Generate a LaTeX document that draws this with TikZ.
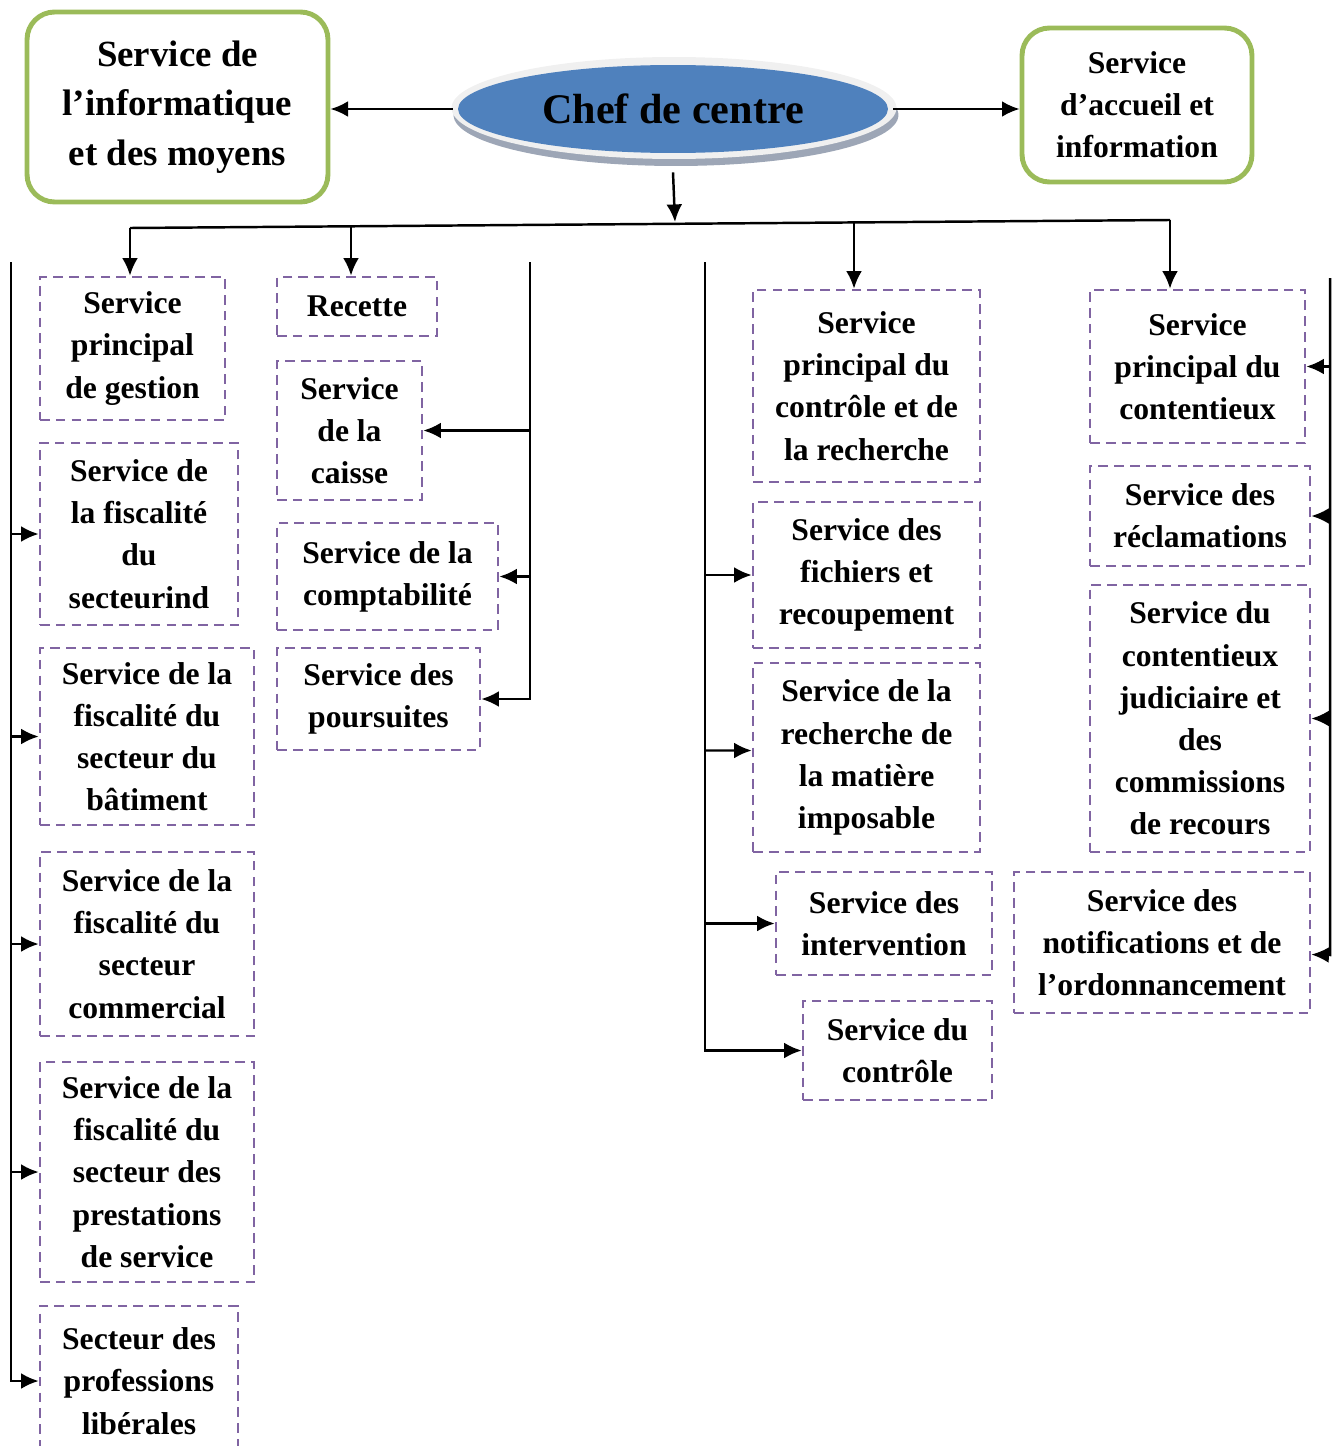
\documentclass[tikz,border=0pt]{standalone}
\usepackage{fontspec}
\setmainfont{Liberation Serif}
\usetikzlibrary{shapes.geometric,arrows.meta}
\definecolor{svcpurple}{HTML}{8064A2}
\definecolor{svcgreen}{HTML}{9BBB59}
\definecolor{chefblue}{HTML}{4F81BD}
\definecolor{chefrim}{HTML}{F0F0F0}
\definecolor{chefshade}{HTML}{9DA6B6}

\begin{document}
\begin{tikzpicture}[x=0.02cm,y=-0.02cm,
	svcbox/.style={draw=svcpurple,line width=1.5pt,dash pattern=on 5.5pt off 3.5pt,rectangle,align=center,inner sep=0pt,font=\bfseries\fontsize{18}{24}\selectfont},
	greenbox/.style={draw=svcgreen,line width=2.8pt,rounded corners=0.55cm,rectangle,align=center,inner sep=0pt},
	link/.style={line width=1.4pt},
	arr/.style={link,-{Latex[length=10pt,width=9pt]}}]
\useasboundingbox (0 ,0) rectangle (1336 ,1446);

\fill [chefshade] (676 ,115) ellipse [x radius=4.45cm, y radius=1.02cm];
\fill [chefrim] (674 ,108) ellipse [x radius=4.45cm, y radius=1.02cm];
\node [ellipse,fill=chefblue,minimum width=8.6cm,minimum height=1.76cm,inner sep=0pt,font=\bfseries\fontsize{24}{29}\selectfont] (chef) at (673 ,109) {Chef de centre};

\node [greenbox,minimum width=6.02cm,minimum height=3.8cm,font=\bfseries\fontsize{21}{28}\selectfont] (info) at (177.5 ,107) {Service de\\ l’informatique\\ et des moyens};
\node [greenbox,minimum width=4.6cm,minimum height=3.08cm,font=\bfseries\fontsize{18}{24}\selectfont] (acc) at (1137 ,105) {Service\\ d’accueil et\\ information};

\draw [arr] (chef.west) ++(-5,0) -- (info.east |- chef.west);
\draw [arr] (chef.east) ++(5,0) -- (acc.west |- chef.east);

\coordinate (b1) at (130 ,228);
\coordinate (b2) at (351 ,226.3);
\coordinate (mid) at (675 ,222);
\coordinate (b3) at (854 ,222.4);
\coordinate (b4) at (1170 ,220);
\draw [arr] (chef.south) ++(0,19) -- (mid);
\draw [link] (b1) -- (b4);

% gestion
\node [svcbox,minimum width=3.7cm,minimum height=2.86cm] (spg) at (132.5 ,348.5) {Service\\ principal\\ de gestion};
\node [svcbox,minimum width=3.96cm,minimum height=3.64cm] (sfi) at (139 ,534) {Service de\\ la fiscalité\\ du\\ secteurind};
\node [svcbox,minimum width=4.28cm,minimum height=3.54cm] (sfb) at (147 ,736.5) {Service de la\\ fiscalité du\\ secteur du\\ bâtiment};
\node [svcbox,minimum width=4.28cm,minimum height=3.68cm] (sfc) at (147 ,944) {Service de la\\ fiscalité du\\ secteur\\ commercial};
\node [svcbox,minimum width=4.28cm,minimum height=4.4cm] (sfp) at (147 ,1172) {Service de la\\ fiscalité du\\ secteur des\\ prestations\\ de service};
\node [svcbox,minimum width=3.96cm,minimum height=3.0cm] (spl) at (139 ,1381) {Secteur des\\ professions\\ libérales};

\coordinate (lt) at (11 ,262);
\draw [arr] (b1) -- (b1 |- spg.north);
\draw [arr] (lt) -- (lt |- spl.west) -- (spl.west);
\foreach \n in {sfi,sfb,sfc,sfp}
	\draw [arr] (lt |- \n.west) -- (\n.west);

% recette
\node [svcbox,minimum width=3.2cm,minimum height=1.18cm] (rec) at (357 ,306.5) {Recette};
\node [svcbox,minimum width=2.9cm,minimum height=2.78cm] (cai) at (349.5 ,430.5) {Service\\ de la\\ caisse};
\node [svcbox,minimum width=4.42cm,minimum height=2.14cm] (cpt) at (387.5 ,576.5) {Service de la\\ comptabilité};
\node [svcbox,minimum width=4.06cm,minimum height=2.04cm] (pou) at (378.5 ,699) {Service des\\ poursuites};

\coordinate (mt) at (530 ,262);
\draw [arr] (b2) -- (b2 |- rec.north);
\draw [arr] (mt) -- (mt |- pou.east) -- (pou.east);
\foreach \n in {cai,cpt}
	\draw [arr] (mt |- \n.east) -- (\n.east);

% controle
\node [svcbox,minimum width=4.54cm,minimum height=3.84cm] (spc) at (866.5 ,386) {Service\\ principal du\\ contrôle et de\\ la recherche};
\node [svcbox,minimum width=4.54cm,minimum height=2.92cm] (sfr) at (866.5 ,575) {Service des\\ fichiers et\\ recoupement};
\node [svcbox,minimum width=4.54cm,minimum height=3.78cm] (srm) at (866.5 ,757.5) {Service de la\\ recherche de\\ la matière\\ imposable};
\node [svcbox,minimum width=4.32cm,minimum height=2.06cm] (sin) at (884 ,923.5) {Service des\\ intervention};
\node [svcbox,minimum width=3.78cm,minimum height=1.98cm] (sco) at (897.5 ,1050.5) {Service du\\ contrôle};

\coordinate (ct) at (705 ,262);
\draw [arr] (b3) -- (b3 |- spc.north);
\draw [arr] (ct) -- (ct |- sco.west) -- (sco.west);
\draw [arr] (ct |- sfr.west) -- (sfr.west);
\draw [arr] (ct |- srm.west) ++(0,-7) -- ([yshift=0.14cm]srm.west);
\draw [arr] (ct |- sin.west) -- (sin.west);

% contentieux
\node [svcbox,minimum width=4.3cm,minimum height=3.06cm] (spx) at (1197.5 ,366.5) {Service\\ principal du\\ contentieux};
\node [svcbox,minimum width=4.4cm,minimum height=2.0cm] (sre) at (1200 ,516) {Service des\\ réclamations};
\node [svcbox,minimum width=4.4cm,minimum height=5.34cm] (scj) at (1200 ,718.5) {Service du\\ contentieux\\ judiciaire et\\ des\\ commissions\\ de recours};
\node [svcbox,minimum width=5.92cm,minimum height=2.82cm] (sno) at (1162 ,942.5) {Service des\\ notifications et de\\ l’ordonnancement};

\coordinate (rt) at (1330 ,278);
\draw [arr] (b4) -- (b4 |- spx.north);
\draw [arr] (rt) -- (1330 ,955) -- ([yshift=-0.24cm]sno.east);
\foreach \n in {spx,sre,scj}
	\draw [arr] (rt |- \n.east) -- (\n.east);
\end{tikzpicture}
\end{document}
